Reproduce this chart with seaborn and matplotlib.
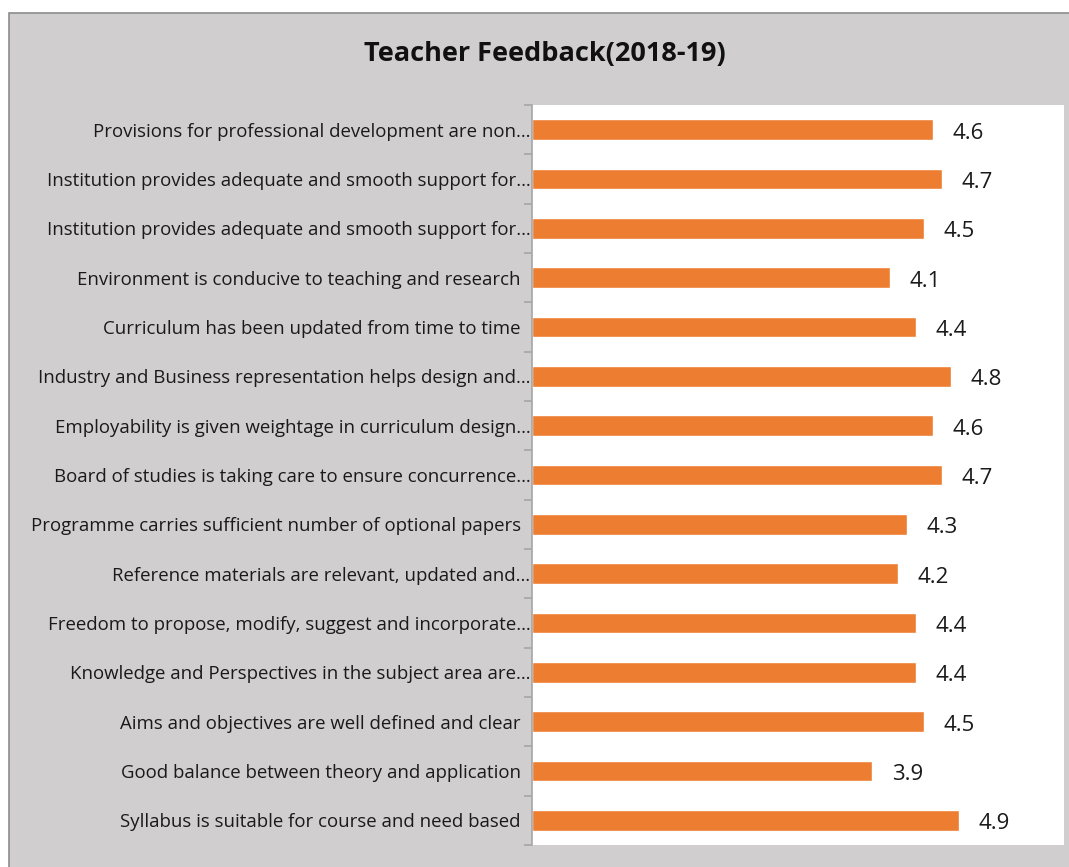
import numpy as np
import matplotlib.pyplot as plt
import seaborn as sns
import pandas as pd
from matplotlib.patches import Rectangle
from matplotlib.ticker import FixedLocator

# Data (top to bottom as shown)
items = [
    'Provisions for professional development are non…',
    'Institution provides adequate and smooth support for…',
    'Institution provides adequate and smooth support for…',
    'Environment is conducive to teaching and research  ',
    'Curriculum has been updated from time to time  ',
    'Industry and Business representation helps design and…',
    'Employability is given weightage in curriculum design…',
    'Board of studies is taking care to ensure concurrence…',
    'Programme carries sufficient number of optional papers  ',
    'Reference materials are relevant, updated and…',
    'Freedom to propose, modify, suggest and incorporate…',
    'Knowledge and Perspectives in the subject area are…',
    'Aims and objectives are well defined and clear  ',
    'Good balance between theory and application  ',
    'Syllabus is suitable for course and need based  ',
]
scores = [4.6, 4.7, 4.5, 4.1, 4.4, 4.8, 4.6, 4.7, 4.3, 4.2, 4.4, 4.4, 4.5, 3.9, 4.9]

df = pd.DataFrame({'key': [str(i) for i in range(len(items))], 'score': scores})

sns.set_style('white')
plt.rcParams['font.family'] = ['Open Sans', 'DejaVu Sans']

fig = plt.figure(figsize=(10.69, 8.67), dpi=100)
fig.patch.set_facecolor('white')
# grey chart area with border (top and left edges visible)
fig.patches.append(Rectangle((9 / 1069, -0.05), 1.1, 1.05 - 13 / 867,
                             transform=fig.transFigure, facecolor='#D0CECE',
                             edgecolor='#8C8C8C', linewidth=1.2, zorder=-10))

ax = fig.add_axes([532 / 1069, 1 - 845 / 867, (1064 - 532) / 1069, (845 - 105) / 867])
ax.set_facecolor('white')

sns.barplot(data=df, x='score', y='key', color='#ED7D31', width=0.42,
            saturation=1, ax=ax, orient='h')

ax.set_xlim(0, 6.1)
ax.set_ylim(len(items) - 0.5, -0.5)
ax.set_xlabel('')
ax.set_ylabel('')
ax.set_xticks([])

ax.set_yticks(range(len(items)))
ax.set_yticklabels(items, fontsize=13.4, color='#1a1a1a')
ax.tick_params(axis='y', which='major', length=0, pad=1)
ax.yaxis.set_minor_locator(FixedLocator(np.arange(-0.5, len(items), 1.0)))
ax.tick_params(axis='y', which='minor', left=True, length=6, width=1.2, color='#A6A6A6')

for s in ['top', 'right', 'bottom']:
    ax.spines[s].set_visible(False)
ax.spines['left'].set_color('#A6A6A6')
ax.spines['left'].set_linewidth(1.2)

for c in ax.containers:
    labels = ax.bar_label(c, fmt='%.1f', padding=14, fontsize=16, color='#1a1a1a')
    for t in labels:
        t.xyann = (14, -2.5)

fig.text(545 / 1069, 1 - 54 / 867, 'Teacher Feedback(2018-19)', ha='center', va='center',
         fontsize=19.5, fontweight='bold', color='#111111')

fig.savefig('out.png', dpi=100)
